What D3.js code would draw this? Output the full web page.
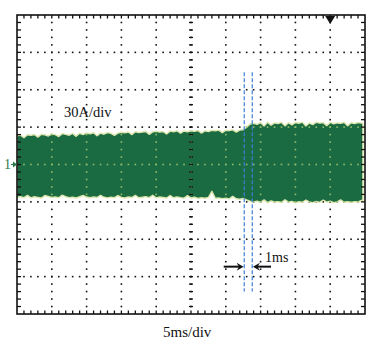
<!DOCTYPE html>
<html><head><meta charset="utf-8">
<script src="https://cdn.jsdelivr.net/npm/d3@7"></script>
<style>
html,body{margin:0;padding:0;background:#fff;}
svg{display:block;}
text{font-family:"Liberation Serif","Times New Roman",serif;}
</style></head>
<body>
<script>
// ---- data ----
const timeDomain = [0, 50];          // ms (5 ms/div, 10 div)
const ampDomain = [-120, 120];       // A (30 A/div, 8 div)
const xTicks = [0,5,10,15,20,25,30,35,40,45,50];
const yTicks = [-120,-90,-60,-30,0,30,60,90,120];
const times = [...d3.range(0, 50, 0.5), 49.7];
const upper = [
 23.0,23.6,21.5,23.9,23.4,24.1,22.0,24.3,23.8,22.9,
 24.5,24.0,22.4,24.8,24.2,23.5,24.9,22.6,25.1,24.0,
 25.3,24.7,25.5,23.1,25.2,24.3,25.6,25.0,23.4,25.2,
 25.9,25.4,26.1,24.0,26.3,25.7,26.0,26.5,24.2,26.2,
 26.7,26.0,26.4,24.5,26.8,26.3,27.0,25.1,26.9,26.2,
 27.1,26.6,27.3,25.2,27.0,26.4,27.4,27.0,27.6,25.5,
 27.5,27.2,27.8,26.0,27.6,27.9,
 30.0,32.5,
 33.0,32.2,33.6,30.8,33.9,31.5,33.4,32.9,33.8,31.0,
 33.5,31.8,33.7,33.1,34.0,30.9,33.3,32.0,33.9,33.2,
 33.6,31.2,33.8,32.7,33.4,33.0,33.9,31.0,33.5,32.8,
 33.7,33.2,33.0];
const lower = [
 -26.3,-25.8,-26.6,-24.8,-26.8,-25.9,-26.4,-26.9,-24.9,-25.7,
 -26.5,-26.0,-26.7,-24.6,-25.8,-26.6,-26.3,-26.9,-25.9,-24.8,
 -26.1,-26.7,-26.0,-26.5,-24.7,-26.3,-26.8,-26.2,-26.6,-24.9,
 -26.4,-26.9,-26.1,-26.5,-24.8,-26.7,-26.3,-25.8,-26.6,-24.7,
 -26.8,-26.1,-26.5,-26.9,-24.9,-26.7,-26.0,-26.6,-27.0,-25.0,
 -26.9,-26.3,-27.2,-26.7,-27.0,-26.5,-21.5,-27.1,-26.8,-27.4,
 -27.0,-27.6,-25.6,-27.5,-27.8,-27.3,
 -28.5,-29.5,
 -30.0,-29.4,-30.3,-28.4,-30.6,-29.2,-30.1,-29.8,-30.5,-28.3,
 -30.2,-29.6,-30.8,-29.9,-30.3,-28.5,-30.0,-30.6,-29.7,-30.4,
 -28.6,-30.2,-29.5,-30.7,-30.0,-28.4,-30.3,-29.9,-30.5,-29.8,
 -30.1,-28.7,-29.9];
const cursorTimes = [32.65, 33.8];     // ms
const cursorSpan = [74, -102];         // A
const arrowLeft = [29.7, 32.55];       // ms
const arrowRight = [36.5, 33.9];       // ms
const arrowLevel = -82;                // A
const triggerTime = 45;                // ms
const labels = {amp: "30A/div", time: "5ms/div", delta: "1ms", ch: "1"};

// ---- drawing ----
const W = 387, H = 342;
const svg = d3.select("body").append("svg").attr("width", W).attr("height", H);
const x = d3.scaleLinear().domain(timeDomain).range([17, 365]);
const y = d3.scaleLinear().domain(ampDomain).range([314, 15]);
const data = times.map((t, i) => ({t, hi: upper[i], lo: lower[i]}));

const minorX = d3.range(0, 51, 1);
const minorY = d3.range(-120, 121, 6);

function drawDots(g, color) {
  yTicks.slice(1, -1).forEach(v => {
    minorX.slice(1, -1).forEach(t => {
      g.append("rect").attr("x", x(t) - 0.8).attr("y", y(v) - 0.8)
        .attr("width", 1.6).attr("height", 1.6).attr("fill", color);
    });
  });
  xTicks.slice(1, -1).forEach(t => {
    minorY.slice(1, -1).forEach(v => {
      g.append("rect").attr("x", x(t) - 0.8).attr("y", y(v) - 0.8)
        .attr("width", 1.6).attr("height", 1.6).attr("fill", color);
    });
  });
}

const defs = svg.append("defs");
defs.append("clipPath").attr("id", "frame").append("rect")
  .attr("x", x(0)).attr("y", y(120)).attr("width", x(50) - x(0)).attr("height", y(-120) - y(120));

const area = d3.area().x(d => x(d.t)).y0(d => y(d.lo)).y1(d => y(d.hi));
defs.append("clipPath").attr("id", "band").append("path").attr("d", area(data));

drawDots(svg.append("g"), "#111");

svg.append("g").attr("clip-path", "url(#frame)").append("path")
  .attr("d", area(data)).attr("fill", "#1b6b42")
  .attr("stroke", "#dde6ae").attr("stroke-width", 1.4).attr("stroke-linejoin", "round");

drawDots(svg.append("g").attr("clip-path", "url(#band)"), "#93bb6c");

// center vertical axis ticks
const cg = svg.append("g");
minorY.slice(1, -1).forEach(v => {
  cg.append("line").attr("x1", x(25) - 2).attr("x2", x(25) + 2).attr("y1", y(v)).attr("y2", y(v))
    .attr("stroke", "#111").attr("stroke-width", 1.3);
});

// frame + border ticks
const fg = svg.append("g");
fg.append("rect").attr("x", x(0)).attr("y", y(120)).attr("width", x(50) - x(0)).attr("height", y(-120) - y(120))
  .attr("fill", "none").attr("stroke", "#111").attr("stroke-width", 1.6);
minorX.slice(1, -1).forEach(t => {
  fg.append("line").attr("x1", x(t)).attr("x2", x(t)).attr("y1", y(120)).attr("y2", y(120) + 3.5)
    .attr("stroke", "#111").attr("stroke-width", 1.3);
  fg.append("line").attr("x1", x(t)).attr("x2", x(t)).attr("y1", y(-120)).attr("y2", y(-120) - 3.5)
    .attr("stroke", "#111").attr("stroke-width", 1.3);
});
minorY.slice(1, -1).forEach(v => {
  fg.append("line").attr("x1", x(0)).attr("x2", x(0) + 4).attr("y1", y(v)).attr("y2", y(v))
    .attr("stroke", "#111").attr("stroke-width", 1.3);
  fg.append("line").attr("x1", x(50)).attr("x2", x(50) - 4).attr("y1", y(v)).attr("y2", y(v))
    .attr("stroke", "#111").attr("stroke-width", 1.3);
});

// trigger marker
const tx = x(triggerTime), ty = y(120);
svg.append("path").attr("d", `M${tx - 5},${ty + 1}L${tx + 5},${ty + 1}L${tx},${ty + 9}Z`).attr("fill", "#111");

// channel marker
svg.append("text").attr("x", 4).attr("y", y(0) + 4.5).attr("font-size", 14).attr("fill", "#2e7a4c").text(labels.ch);
svg.append("line").attr("x1", x(0) - 6).attr("x2", x(0)).attr("y1", y(0)).attr("y2", y(0))
  .attr("stroke", "#2e7a4c").attr("stroke-width", 1.2);
svg.append("path").attr("d", `M${x(0) - 4},${y(0) - 3}L${x(0)},${y(0)}L${x(0) - 4},${y(0) + 3}Z`).attr("fill", "#2e7a4c");

// cursors
cursorTimes.forEach(t => {
  svg.append("line").attr("x1", x(t)).attr("x2", x(t)).attr("y1", y(cursorSpan[0])).attr("y2", y(cursorSpan[1]))
    .attr("stroke", "#3d7fd6").attr("stroke-width", 1.2).attr("stroke-dasharray", "4,2");
});

// arrows
function arrow(from, to) {
  const x1 = x(from), x2 = x(to), yy = y(arrowLevel), dir = Math.sign(x2 - x1);
  svg.append("line").attr("x1", x1).attr("x2", x2 - dir * 4).attr("y1", yy).attr("y2", yy)
    .attr("stroke", "#111").attr("stroke-width", 2);
  svg.append("path").attr("d", `M${x2 - dir * 7},${yy - 4}L${x2},${yy}L${x2 - dir * 7},${yy + 4}L${x2 - dir * 4.5},${yy}Z`)
    .attr("fill", "#111");
}
arrow(arrowLeft[0], arrowLeft[1]);
arrow(arrowRight[0], arrowRight[1]);

// labels
svg.append("text").attr("x", 64).attr("y", 117).attr("font-size", 14.5).attr("fill", "#111").text(labels.amp);
svg.append("text").attr("x", 265).attr("y", 262).attr("font-size", 14).attr("fill", "#111").text(labels.delta);
svg.append("text").attr("x", 163).attr("y", 337).attr("font-size", 15).attr("fill", "#111").text(labels.time);
</script>
</body></html>
